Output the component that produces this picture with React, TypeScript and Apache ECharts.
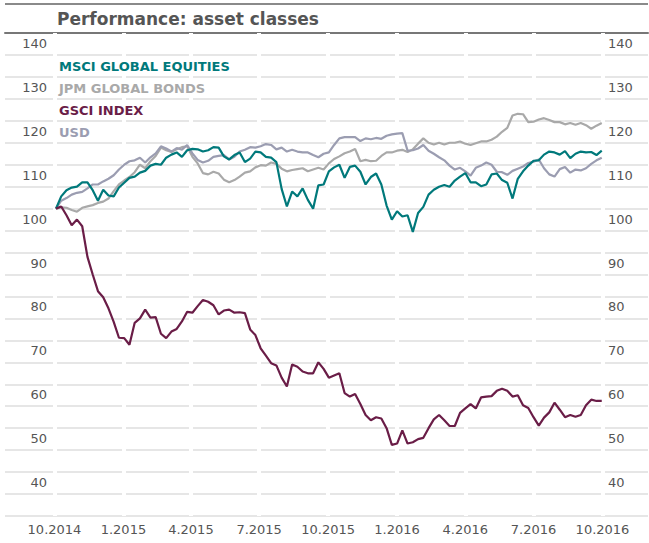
import React, { useEffect, useRef } from "react";
import * as echarts from "echarts";

const FIRST_OBSERVATION = "2014-10-03"; // weekly observations start here
const QUARTER_TICKS = [
  "2014-10-01", "2015-01-01", "2015-04-01", "2015-07-01", "2015-10-01",
  "2016-01-01", "2016-04-01", "2016-07-01", "2016-10-01",
];
const SERIES_NAMES = ["MSCI GLOBAL EQUITIES", "JPM GLOBAL BONDS", "GSCI INDEX", "USD"];
const SERIES_COLORS = ["#00797b", "#a9a9a9", "#6a1d47", "#9b9db1"];

const MSCI = [
  100, 102.8, 104.2, 104.8, 105, 106, 106, 104.2, 101.8, 104.3,
  103, 102.8, 104.8, 105.9, 107, 107.3, 108.2, 108.6, 109.8, 110.2,
  110, 111.6, 112.3, 112.8, 111.8, 113.3, 113.6, 113.5, 113, 113.3,
  114, 113.9, 111.9, 111.2, 112.2, 112.8, 110.6, 111.4, 113, 112.8,
  111.8, 111.6, 110.6, 104.5, 100.5, 103.9, 102.8, 104.6, 102, 100,
  105.3, 105.5, 108.5, 109.4, 110, 107, 109.5, 109.8, 108.4, 105.5,
  107.2, 108, 105.5, 100.7, 97.5, 99.4, 98.2, 98.5, 94.7, 99,
  100.4, 103.2, 104.3, 105, 105.4, 105, 106.4, 107.3, 108.1, 106,
  106, 105.1, 105.5, 107.8, 108, 106.5, 105.9, 102.3, 106.8, 108.5,
  109.8, 110.9, 111, 112.3, 113, 112.8, 112.3, 113.1, 111.5, 112.5,
  113, 112.8, 112.9, 112.2, 113.2,
];
const JPM = [
  100, 100.3, 100.2, 99.7, 99.3, 100.2, 100.5, 100.8, 101.3, 101.6,
  102.3, 104, 105.5, 106.4, 107.2, 108.3, 110, 109.2, 110.8, 112,
  113.9, 113.3, 112.9, 113.5, 114, 114.2, 111.8, 110.3, 108.1, 107.8,
  108.4, 108, 106.6, 106, 106.5, 107.3, 108.2, 108.5, 109.4, 109.9,
  109.8, 110.5, 110.2, 109.1, 108.5, 108.8, 109, 109.2, 108.5, 108.9,
  109.3, 108.9, 110.3, 111.3, 111.9, 112.6, 113, 113.6, 110.8, 111.1,
  110.8, 110.9, 112, 112.8, 112.8, 113.2, 113.4, 112.9, 113.5, 114.8,
  116, 115, 114.6, 115, 114.6, 115, 115, 115.3, 114.8, 114.5,
  114.9, 115.3, 115.3, 115.7, 116.4, 117.5, 118.4, 121.2, 121.6, 121.5,
  119.7, 119.8, 120.3, 120.6, 120.2, 119.7, 119.7, 119.2, 119.5, 119.1,
  119.5, 119, 118.2, 118.9, 119.5,
];
const GSCI = [
  100, 100.5, 98.5, 96.2, 97.5, 96, 89, 85, 81.2, 79.8,
  77.3, 74.2, 70.6, 70.5, 69, 74, 75, 77, 75.2, 75.3,
  71.5, 70.5, 72, 72.6, 74.3, 76.5, 76.3, 77.8, 79.2, 78.8,
  78, 75.9, 76.8, 77, 76.3, 76.4, 76.2, 72.5, 71.2, 68.2,
  66.5, 64.8, 64.3, 61.5, 59.5, 64.5, 64, 62.9, 62.5, 62.5,
  65, 63.5, 61.5, 62, 62.5, 58, 57.2, 57.8, 55.5, 53,
  51.8, 52.5, 52.2, 50, 46.2, 46.5, 49.5, 46.5, 46.8, 47.5,
  47.8, 50, 52, 53, 51.8, 50.5, 50.5, 53.5, 54.5, 55.5,
  54.5, 57, 57.2, 57.3, 58.5, 59, 58.5, 57.2, 57.5, 55.2,
  54.6, 52.5, 50.6, 52.4, 53.6, 55.8, 54.2, 52.5, 53, 52.6,
  53, 55.2, 56.5, 56.2, 56.2,
];
const USD = [
  100, 101.8, 102.4, 103.2, 103.6, 103.8, 104.6, 105.5, 105.5, 106.2,
  106.8, 107.6, 108.9, 110, 110.8, 111, 111.6, 110.5, 111.7, 112.6,
  114.2, 113.7, 113, 113.8, 113.4, 114.5, 112.6, 111.1, 110.5, 110.9,
  111.8, 112, 112.2, 111.2, 111.8, 113, 113.4, 114, 113.9, 114.2,
  114.7, 114.5, 113.5, 113.9, 113, 113.4, 113, 112.8, 112.8, 112.2,
  111.7, 112.5, 112.8, 114.5, 116, 116.3, 116.3, 116.3, 115.4, 116,
  115.8, 116.1, 115.9, 116.6, 116.9, 117.1, 117.2, 113.2, 113.3, 113.7,
  114.5, 113.2, 112.5, 111.7, 111, 109.8, 108.9, 109.3, 108.5, 107.5,
  109.3, 109.8, 110.5, 110, 108.4, 108.3, 107.7, 108.6, 109.1, 109.6,
  110.4, 110.7, 111.2, 109.2, 107.8, 107.3, 109, 109.5, 108.2, 108.9,
  108.7, 109.2, 110.2, 111, 111.6,
];

const DAY = 86400000;
const toTs = (s: string) => {
  const [y, m, d] = s.split("-").map(Number);
  return Date.UTC(y, m - 1, d);
};

export default function App() {
  const ref = useRef<HTMLDivElement>(null);

  useEffect(() => {
    if (!ref.current) return;
    const chart = echarts.init(ref.current, undefined, { renderer: "svg" });

    const start = toTs(FIRST_OBSERVATION);
    const pair = (vals: number[]) => vals.map((v, i) => [start + i * 7 * DAY, v]);
    const quarterTs = QUARTER_TICKS.map(toTs);
    const xMin = quarterTs[0] - 66 * DAY;
    const xMax = quarterTs[quarterTs.length - 1] + 60.7 * DAY;

    const tickFont = { fontFamily: "DejaVu Sans", fontSize: 13, color: "#555" };
    const fmtDate = (v: number) => {
      const d = new Date(v);
      return d.getUTCMonth() + 1 + "." + d.getUTCFullYear();
    };
    const fmtY = (v: number) => (v % 10 === 0 && v >= 40 ? String(v) : "");

    const allData = [MSCI, JPM, GSCI, USD];
    const drawOrder = [1, 3, 0, 2];

    chart.setOption({
      animation: false,
      backgroundColor: "#fff",
      title: {
        text: "Performance: asset classes",
        left: 57,
        top: 10,
        padding: 0,
        textStyle: { fontFamily: "DejaVu Sans", fontWeight: "bold", fontSize: 17, color: "#555" },
      },
      graphic: [
        {
          type: "line",
          shape: { x1: 5, y1: 4, x2: 648, y2: 4 },
          style: { stroke: "#8a8a8a", lineWidth: 2 },
        },
      ],
      legend: {
        orient: "vertical",
        left: 54,
        top: 59.5,
        padding: 0,
        icon: "rect",
        itemWidth: 0,
        itemHeight: 14,
        itemGap: 8,
        selectedMode: false,
        data: SERIES_NAMES.map((n, i) => ({ name: n, textStyle: { color: SERIES_COLORS[i] } })),
        textStyle: { fontFamily: "DejaVu Sans", fontWeight: "bold", fontSize: 13 },
      },
      grid: { left: 5, right: 1, top: 33, bottom: 27, containLabel: false },
      xAxis: [
        {
          type: "value",
          min: xMin,
          max: xMax,
          position: "bottom",
          z: 1,
          axisLine: { show: false, onZero: false },
          axisTick: { show: false, customValues: quarterTs },
          axisLabel: { customValues: quarterTs, formatter: fmtDate, margin: 7, ...tickFont },
          splitLine: { show: true, lineStyle: { color: "#ffffff", width: 4 } },
        },
        {
          type: "value",
          min: xMin,
          max: xMax,
          position: "top",
          z: 0,
          axisLine: { show: true, onZero: false, lineStyle: { color: "#777", width: 2 } },
          axisTick: { show: false },
          axisLabel: { show: false },
          splitLine: { show: false },
        },
      ],
      yAxis: [
        {
          type: "value",
          min: 30,
          max: 140,
          interval: 5,
          position: "left",
          z: 0,
          axisLine: { show: false },
          axisTick: { show: false },
          splitLine: { show: true, lineStyle: { color: "#dedede", width: 1.5 } },
          axisLabel: {
            inside: true,
            align: "right",
            margin: 42,
            verticalAlign: "top",
            padding: [4, 0, 0, 0],
            formatter: fmtY,
            ...tickFont,
          },
        },
        {
          type: "value",
          min: 30,
          max: 140,
          interval: 5,
          position: "right",
          z: 0,
          axisLine: { show: false },
          axisTick: { show: false },
          splitLine: { show: false },
          axisLabel: {
            inside: true,
            align: "left",
            margin: 40,
            verticalAlign: "top",
            padding: [4, 0, 0, 0],
            formatter: fmtY,
            ...tickFont,
          },
        },
      ],
      series: drawOrder.map((i) => ({
        name: SERIES_NAMES[i],
        type: "line",
        xAxisIndex: 0,
        yAxisIndex: 0,
        showSymbol: false,
        symbol: "none",
        z: 2,
        color: SERIES_COLORS[i],
        lineStyle: { color: SERIES_COLORS[i], width: 2.2 },
        data: pair(allData[i]),
      })),
    });

    return () => chart.dispose();
  }, []);

  return (
    <div
      ref={ref}
      style={{ position: "fixed", left: 0, top: 0, width: 649, height: 543, background: "#fff" }}
    />
  );
}
